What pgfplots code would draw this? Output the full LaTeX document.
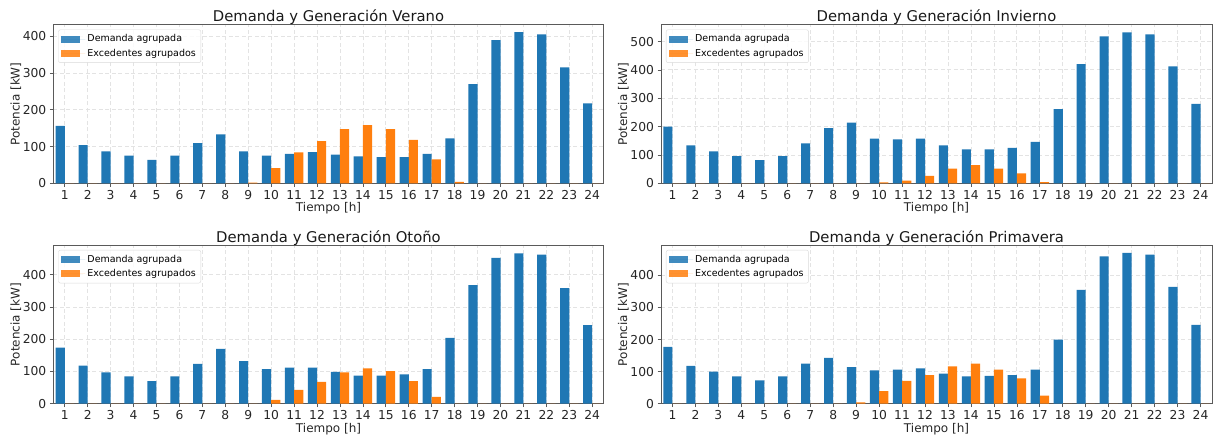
\documentclass[border=0pt]{standalone}
\usepackage{fontspec}
\setmainfont{DejaVu Sans}
\usepackage{pgfplots}
\usepackage{pgfplotstable}
\pgfplotsset{compat=1.18}
\definecolor{cblue}{RGB}{31,119,180}
\definecolor{corange}{RGB}{255,127,14}
\definecolor{spine}{RGB}{90,90,90}

\pgfplotstableread{
h dem exc
1 156 0
2 104 0
3 87 0
4 75 0
5 64 0
6 75 0
7 109 0
8 133 0
9 87 2
10 75 41
11 80 84
12 85 115
13 78 147
14 73 158
15 71 147
16 71 118
17 80 65
18 122 4
19 270 0
20 389 0
21 411 0
22 405 0
23 315 0
24 217 0
}\verano

\pgfplotstableread{
h dem exc
1 200 0
2 134 0
3 113 0
4 96 0
5 82 0
6 96 0
7 141 0
8 195 0
9 214 0
10 158 3
11 155 9
12 158 26
13 134 52
14 120 64
15 120 52
16 125 35
17 146 4
18 262 0
19 420 0
20 518 0
21 532 0
22 525 0
23 412 0
24 280 0
}\invierno

\pgfplotstableread{
h dem exc
1 174 0
2 118 0
3 97 0
4 85 0
5 70 0
6 85 0
7 124 0
8 170 0
9 132 0
10 107 12
11 112 43
12 112 68
13 99 97
14 87 110
15 87 101
16 91 70
17 107 21
18 204 0
19 368 0
20 453 0
21 467 0
22 463 0
23 359 0
24 244 0
}\otono

\pgfplotstableread{
h dem exc
1 177 0
2 118 0
3 100 0
4 85 0
5 73 0
6 85 0
7 125 0
8 143 0
9 114 4
10 104 39
11 106 71
12 110 89
13 94 116
14 85 125
15 87 106
16 89 79
17 106 25
18 200 0
19 355 0
20 459 0
21 470 0
22 465 0
23 364 0
24 246 0
}\primavera

\pgfplotsset{
  panel/.style={
    scale only axis,
    height=158.5pt,
    anchor=south west,
    xmin=0.5, xmax=24.5, ymin=0,
    xtick={1,...,24},
    axis line style={spine, line width=0.7pt},
    tick style={spine, line width=0.7pt},
    major tick length=3.5pt,
    tick align=outside,
    xtick pos=bottom, ytick pos=left,
    grid=major,
    grid style={gray!22, line width=0.8pt, dash pattern=on 4pt off 2.5pt},
    /pgf/number format/assume math mode=true,
    ticklabel style={font=\fontsize{12.3}{14}\selectfont, text=black!85},
    label style={font=\fontsize{12}{14}\selectfont, text=black!85},
    title style={font=\fontsize{14.8}{17}\selectfont, text=black!90, at={(axis description cs:0.5,1)}, anchor=base, yshift=-3pt},
    xlabel={Tiempo [h]},
    ylabel={Potencia [kW]},
    xlabel style={at={(axis description cs:0.5,0)}, anchor=base, yshift=-28.5pt},
    ylabel style={at={(axis description cs:-0.0614,0.5)}, anchor=base},
    legend cell align=left,
    legend style={at={(axis description cs:0.009,0.97)}, anchor=north west,
      draw=gray!30, rounded corners=2pt, fill=white, fill opacity=0.85, text opacity=1,
      font=\fontsize{9.5}{11}\selectfont, inner xsep=3pt, inner ysep=3pt,
      row sep=1.5pt},
  },
  bdem/.style={ybar, bar width=0.4, bar shift=-0.2, fill=cblue, draw=none,
    legend image code/.code={\fill[cblue, sharp corners] (0pt,-3.4pt) rectangle (18.6pt,3.4pt); \path (0pt,0pt) -- (24pt,0pt);}},
  bexc/.style={ybar, bar width=0.4, bar shift=0.2, fill=corange, draw=none,
    legend image code/.code={\fill[corange, sharp corners] (0pt,-3.4pt) rectangle (18.6pt,3.4pt); \path (0pt,0pt) -- (24pt,0pt);}},
}

\begin{document}
\begin{tikzpicture}
\useasboundingbox (0,0) rectangle (1218pt,437pt);
% Verano
\begin{axis}[panel, at={(53.3pt,253.7pt)}, width=550.4pt, ymax=431,
  ytick={0,100,200,300,400}, title={Demanda y Generación Verano}]
\addplot[bdem] table[x=h,y=dem]{\verano};
\addplot[bexc] table[x=h,y=exc]{\verano};
\legend{Demanda agrupada, Excedentes agrupados}
\end{axis}
% Invierno
\begin{axis}[panel, at={(661pt,253.7pt)}, width=551pt, ymax=559,
  ytick={0,100,200,300,400,500}, title={Demanda y Generación Invierno}]
\addplot[bdem] table[x=h,y=dem]{\invierno};
\addplot[bexc] table[x=h,y=exc]{\invierno};
\legend{Demanda agrupada, Excedentes agrupados}
\end{axis}
% Otoño
\begin{axis}[panel, at={(53.3pt,33.3pt)}, width=550.4pt, ymax=492,
  ytick={0,100,200,300,400}, title={Demanda y Generación Otoño}]
\addplot[bdem] table[x=h,y=dem]{\otono};
\addplot[bexc] table[x=h,y=exc]{\otono};
\legend{Demanda agrupada, Excedentes agrupados}
\end{axis}
% Primavera
\begin{axis}[panel, at={(661pt,33.3pt)}, width=551pt, ymax=494,
  ytick={0,100,200,300,400}, title={Demanda y Generación Primavera}]
\addplot[bdem] table[x=h,y=dem]{\primavera};
\addplot[bexc] table[x=h,y=exc]{\primavera};
\legend{Demanda agrupada, Excedentes agrupados}
\end{axis}
\end{tikzpicture}
\end{document}
